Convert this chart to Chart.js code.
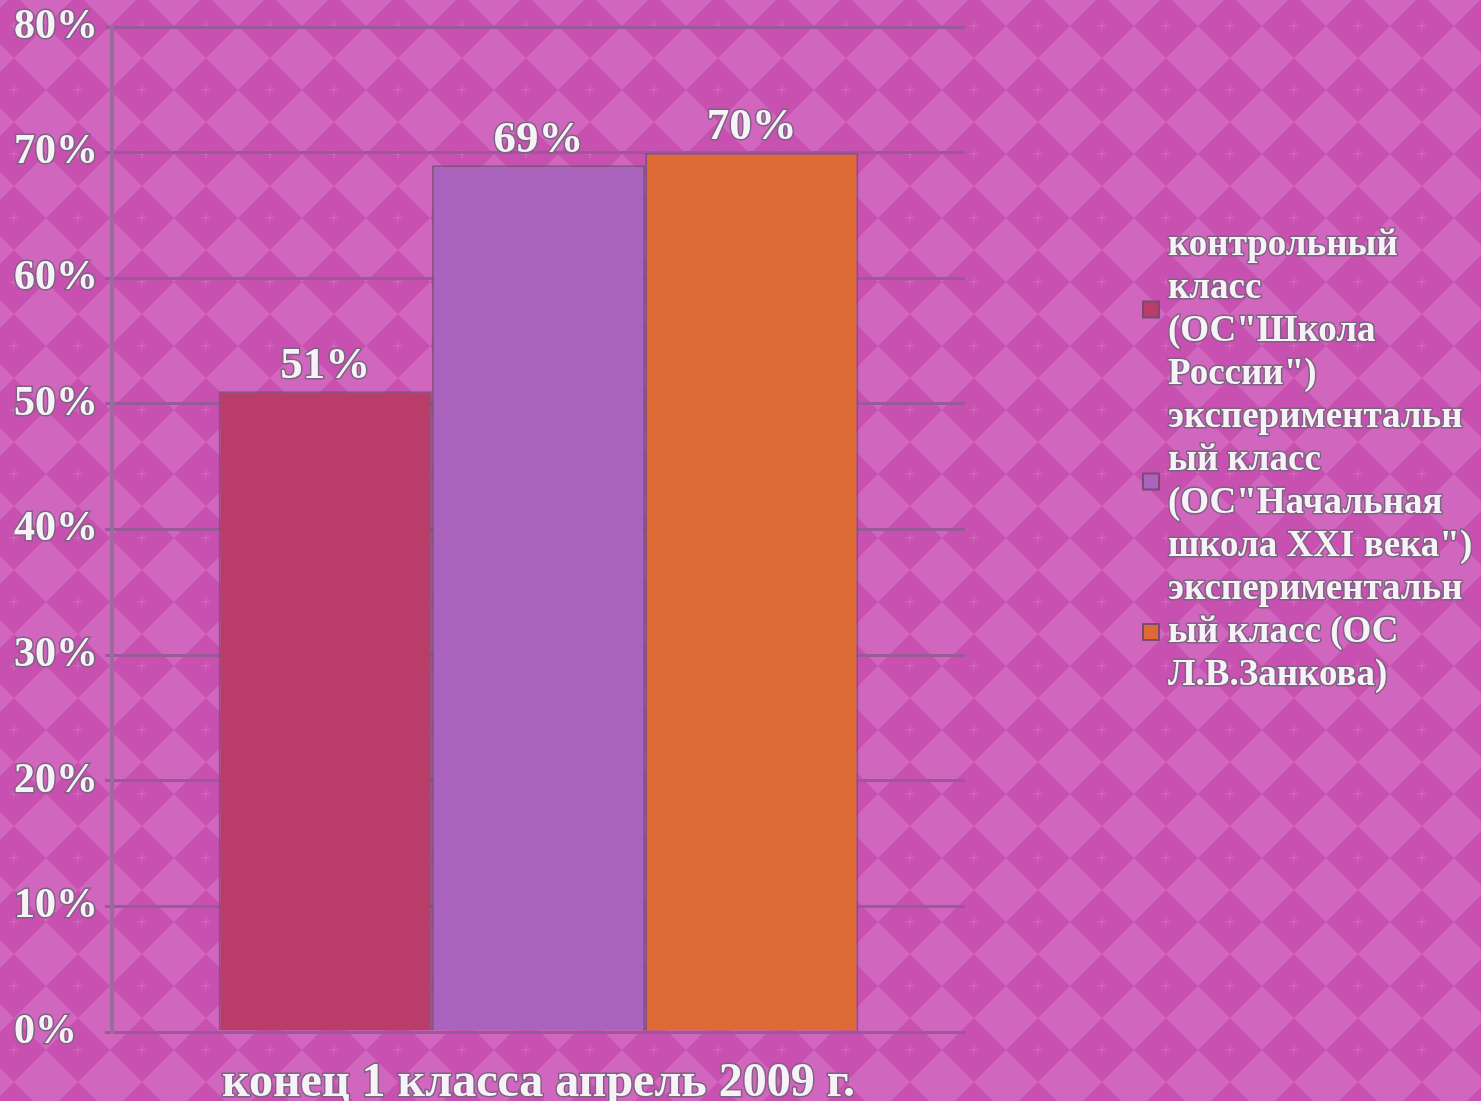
<!DOCTYPE html>
<html>
<head>
<meta charset="utf-8">
<script src="https://cdn.jsdelivr.net/npm/chart.js@4/dist/chart.umd.min.js"></script>
<style>
  html, body { margin: 0; padding: 0; background: #d066bd; overflow: hidden; }
  #wrap { width: 1481px; height: 1101px; }
</style>
</head>
<body>
<div id="wrap"><canvas id="chart" width="1481" height="1101"></canvas></div>
<script>
const categories = ["конец 1 класса апрель 2009 г."];
const seriesLines = [
  ["контрольный", "класс", "(ОС\"Школа", "России\")"],
  ["экспериментальн", "ый класс", "(ОС\"Начальная", "школа XXI века\")"],
  ["экспериментальн", "ый класс (ОС", "Л.В.Занкова)"],
];
const seriesValues = [[51], [69], [70]];
const seriesColors = ["#b93c69", "#aa64be", "#de6b35"];
const yTicks = [0, 10, 20, 30, 40, 50, 60, 70, 80];

const FONT = "'Liberation Serif', 'DejaVu Serif', serif";
const TEXT_FILL = "#f7f2f7";
const TEXT_STROKE = "#7e6282";

// argyle background
const background = {
  id: "background",
  beforeDraw(chart) {
    const ctx = chart.ctx;
    const w = chart.width, h = chart.height;
    ctx.save();
    ctx.fillStyle = "#d066bd";
    ctx.fillRect(0, 0, w, h);
    ctx.fillStyle = "#c850b1";
    for (let cy = 26 - 64; cy < h + 64; cy += 64) {
      for (let cx = 14 - 64; cx < w + 64; cx += 64) {
        ctx.beginPath();
        ctx.moveTo(cx, cy - 32);
        ctx.lineTo(cx + 32, cy);
        ctx.lineTo(cx, cy + 32);
        ctx.lineTo(cx - 32, cy);
        ctx.closePath();
        ctx.fill();
      }
    }
    ctx.strokeStyle = "rgba(235,160,220,0.35)";
    ctx.lineWidth = 1;
    for (let cy = 26; cy < h; cy += 64) {
      for (let cx = 14; cx < w; cx += 64) {
        ctx.beginPath();
        ctx.moveTo(cx - 4, cy); ctx.lineTo(cx + 4, cy);
        ctx.moveTo(cx, cy - 4); ctx.lineTo(cx, cy + 4);
        ctx.stroke();
      }
    }
    ctx.restore();
  },
};

function outlinedText(ctx, text, x, y) {
  ctx.lineJoin = "round";
  ctx.lineWidth = 3;
  ctx.strokeStyle = TEXT_STROKE;
  ctx.strokeText(text, x, y);
  ctx.fillStyle = TEXT_FILL;
  ctx.fillText(text, x, y);
}

// value labels above bars
const valueLabels = {
  id: "valueLabels",
  afterDatasetsDraw(chart) {
    const ctx = chart.ctx;
    ctx.save();
    ctx.font = "bold 45px " + FONT;
    ctx.textAlign = "center";
    ctx.textBaseline = "middle";
    chart.data.datasets.forEach((ds, i) => {
      chart.getDatasetMeta(i).data.forEach((bar, j) => {
        outlinedText(ctx, ds.data[j] + "%", bar.x, bar.y - 25);
      });
    });
    ctx.restore();
  },
};

// legend on the right with wrapped lines
const sideLegend = {
  id: "sideLegend",
  afterDraw(chart) {
    const ctx = chart.ctx;
    const lineH = 43;
    let y = 245;
    ctx.save();
    ctx.font = "bold 37px " + FONT;
    ctx.textAlign = "left";
    ctx.textBaseline = "middle";
    seriesLines.forEach((lines, i) => {
      const mid = y + (lines.length - 1) * lineH / 2;
      ctx.fillStyle = seriesColors[i];
      ctx.strokeStyle = "#7a4a72";
      ctx.lineWidth = 2;
      ctx.fillRect(1143, mid - 8, 16, 16);
      ctx.strokeRect(1143, mid - 8, 16, 16);
      lines.forEach((line) => {
        outlinedText(ctx, line, 1168, y);
        y += lineH;
      });
    });
    ctx.restore();
  },
};

new Chart(document.getElementById("chart"), {
  type: "bar",
  data: {
    labels: categories,
    datasets: seriesLines.map((lines, i) => ({
      label: lines.join(" "),
      data: seriesValues[i],
      backgroundColor: seriesColors[i],
      borderColor: "rgba(120,80,115,0.8)",
      borderWidth: 2,
      categoryPercentage: 0.75,
      barPercentage: 1,
    })),
  },
  options: {
    responsive: false,
    animation: false,
    devicePixelRatio: 1,
    layout: { padding: { left: 14, top: 27, right: 516, bottom: 0 } },
    plugins: {
      legend: { display: false },
      tooltip: { enabled: false },
    },
    scales: {
      x: {
        grid: { display: false },
        border: { display: true, color: "#9a5a98", width: 3 },
        ticks: {
          font: { family: FONT, size: 48, weight: "bold" },
          color: TEXT_FILL,
          textStrokeColor: TEXT_STROKE,
          textStrokeWidth: 3,
          padding: 15,
          maxRotation: 0,
        },
        afterFit(scale) { scale.height = 69; },
      },
      y: {
        min: 0,
        max: 80,
        afterBuildTicks(scale) { scale.ticks = yTicks.map((v) => ({ value: v })); },
        grid: { color: "#9a5a98", lineWidth: 3, tickLength: 7 },
        border: { display: true, color: "#9a6c9c", width: 4 },
        ticks: {
          font: { family: FONT, size: 42, weight: "bold", lineHeight: 1 },
          color: TEXT_FILL,
          textStrokeColor: TEXT_STROKE,
          textStrokeWidth: 3,
          padding: 6,
          crossAlign: "far",
          callback: (v) => v + "%",
        },
        afterFit(scale) { scale.width = 98; },
      },
    },
  },
  plugins: [background, valueLabels, sideLegend],
});
</script>
</body>
</html>
